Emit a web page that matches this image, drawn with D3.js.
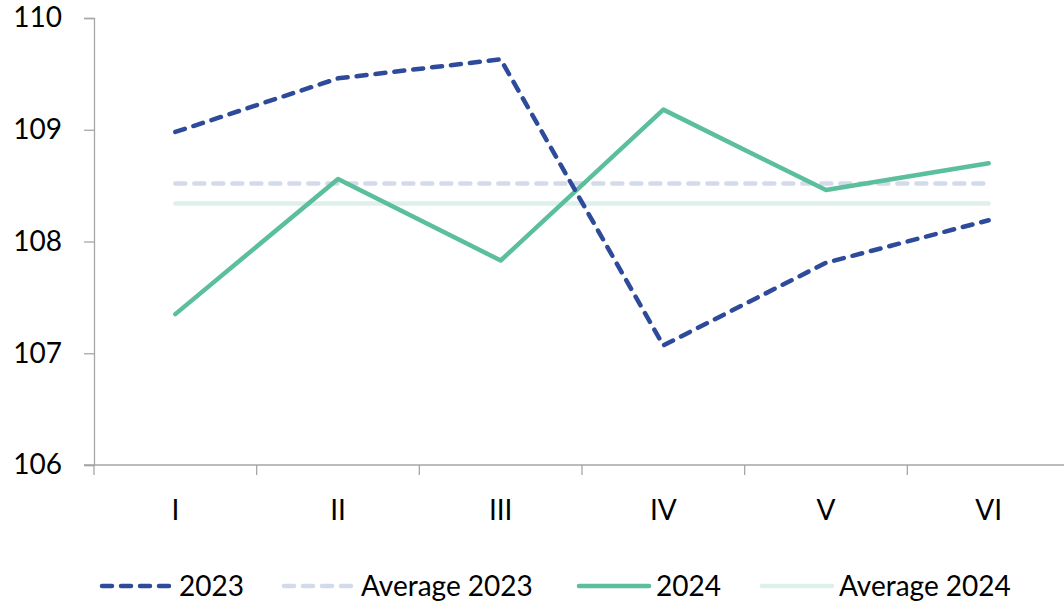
<!DOCTYPE html>
<html><head><meta charset="utf-8">
<script src="https://cdn.jsdelivr.net/npm/d3@7"></script>
<style>body{margin:0;background:#fff}svg{display:block}text{font-family:Lato,"Open Sans",sans-serif;fill:#000}</style>
</head><body><svg id="c" width="1064" height="601"></svg>
<script>
const categories = ["I","II","III","IV","V","VI"];
const values2023 = [108.98,109.46,109.63,107.07,107.81,108.19];
const values2024 = [107.35,108.56,107.83,109.18,108.46,108.70];
const avg2023 = [108.52,108.52,108.52,108.52,108.52,108.52];
const avg2024 = [108.34,108.34,108.34,108.34,108.34,108.34];
const yTicks = [106,107,108,109,110];

const svg = d3.select("#c");
const x = d3.scaleBand().domain(categories).range([94,1070]);
const y = d3.scaleLinear().domain([106,110]).range([465,18]);
const axisColor = "#A6A6A6";
const fs = 28;

// y axis
const ya = svg.append("g").attr("transform","translate(94,0)")
  .call(d3.axisLeft(y).tickValues(yTicks).tickSize(10).tickPadding(22).tickFormat(d3.format("d")));
ya.select(".domain").attr("stroke",axisColor).attr("stroke-width",1.3);
ya.selectAll(".tick line").attr("stroke",axisColor).attr("stroke-width",1.3);
ya.selectAll(".tick text").attr("font-size",fs).attr("font-family","Lato").attr("fill","#000");

// x axis
const xa = svg.append("g").attr("transform","translate(0,465)")
  .call(d3.axisBottom(x).tickSize(0).tickPadding(35));
xa.select(".domain").remove();
svg.append("line").attr("x1",84).attr("x2",1064).attr("y1",465).attr("y2",465).attr("stroke",axisColor).attr("stroke-width",1.3);
xa.selectAll(".tick text").attr("font-size",fs).attr("font-family","Lato").attr("fill","#000");
const bounds = categories.map(c=>x(c)).concat([x.range()[1]]);
svg.append("g").selectAll("line").data(bounds).join("line")
  .attr("x1",d=>d).attr("x2",d=>d).attr("y1",465).attr("y2",475)
  .attr("stroke",axisColor).attr("stroke-width",1.3);

const cx = c => x(c) + x.bandwidth()/2;
const line = d3.line().x((d,i)=>cx(categories[i])).y(d=>y(d));

const series = [
  {name:"Average 2023", data:avg2023, color:"#D3DAEC", dash:"10,9", w:4.5},
  {name:"Average 2024", data:avg2024, color:"#DDF1EA", dash:null, w:4.5},
  {name:"2024", data:values2024, color:"#5BBF9B", dash:null, w:4.5},
  {name:"2023", data:values2023, color:"#2E4A9A", dash:"10,9", w:4.5}
];
series.forEach(s=>{
  svg.append("path").datum(s.data).attr("d",line).attr("fill","none")
    .attr("stroke",s.color).attr("stroke-width",s.w)
    .attr("stroke-linecap","round").attr("stroke-linejoin","round")
    .attr("stroke-dasharray",s.dash);
});

// legend
const legend = [
  {name:"2023", color:"#2E4A9A", dash:"10,9", x0:102},
  {name:"Average 2023", color:"#D3DAEC", dash:"10,9", x0:284},
  {name:"2024", color:"#5BBF9B", dash:null, x0:579},
  {name:"Average 2024", color:"#DDF1EA", dash:null, x0:762}
];
const lg = svg.append("g");
legend.forEach(l=>{
  lg.append("line").attr("x1",l.x0).attr("x2",l.x0+70).attr("y1",586).attr("y2",586)
    .attr("stroke",l.color).attr("stroke-width",4.5).attr("stroke-linecap","round")
    .attr("stroke-dasharray",l.dash);
  lg.append("text").attr("x",l.x0+77).attr("y",596).attr("font-size",fs).text(l.name);
});
</script></body></html>
